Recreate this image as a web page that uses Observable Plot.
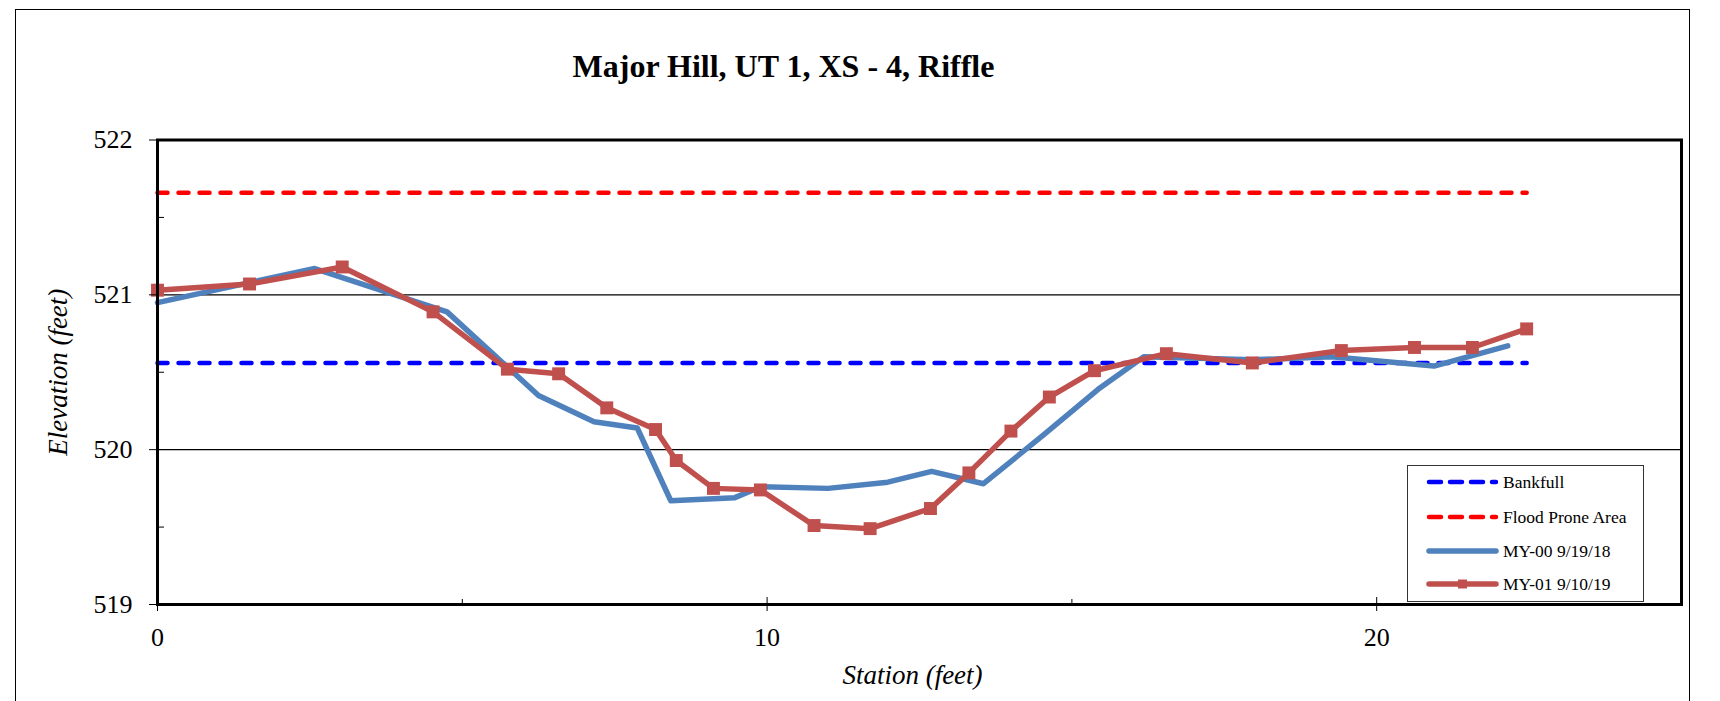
<!DOCTYPE html>
<html><head><meta charset="utf-8">
<script src="https://cdn.jsdelivr.net/npm/d3@7"></script>
<script src="https://cdn.jsdelivr.net/npm/@observablehq/plot@0.6"></script>
<style>
body{margin:0;background:#fff;}
#wrap{position:relative;width:1720px;height:701px;overflow:hidden;font-family:"Liberation Serif","Times New Roman",serif;}
#wrap svg{position:absolute;left:0;top:0;}
#border{position:absolute;left:15px;top:9px;width:1675px;height:800px;border:1px solid #000;box-sizing:border-box;}
#legend{position:absolute;left:1407px;top:465px;width:237px;height:137px;border:1.5px solid #333;box-sizing:border-box;background:#fff;}
#legend svg{position:static;}
</style></head><body><div id="wrap"><div id="border"></div></div>
<script>
const title = "Major Hill, UT 1, XS - 4, Riffle";
const xLabel = "Station (feet)";
const yLabel = "Elevation (feet)";

const xMajor = [0, 10, 20];
const xMinor = [5, 15];
const yMajor = [519, 520, 521, 522];
const yMinor = [519.5, 520.5, 521.5];
const yGrid = [520, 521];

const bankfullStations = [0, 22.46];
const bankfullElev = 520.56;
const floodStations = [0, 22.46];
const floodElev = 521.66;

const my00Stations = [0, 2.58, 4.75, 6.25, 7.16, 7.87, 8.42, 9.47, 9.90, 11.00, 11.98, 12.70, 13.55, 14.55, 15.43, 16.18, 17.96, 19.26, 20.94, 22.15];
const my00Elev = [520.95, 521.17, 520.89, 520.35, 520.18, 520.14, 519.67, 519.69, 519.76, 519.75, 519.79, 519.86, 519.78, 520.10, 520.39, 520.60, 520.58, 520.60, 520.54, 520.67];

const my01Stations = [0, 1.51, 3.03, 4.52, 5.74, 6.58, 7.37, 8.17, 8.51, 9.12, 9.89, 10.77, 11.69, 12.68, 13.31, 14.00, 14.63, 15.37, 16.55, 17.96, 19.42, 20.62, 21.57, 22.46];
const my01Elev = [521.03, 521.07, 521.18, 520.89, 520.52, 520.49, 520.27, 520.13, 519.93, 519.75, 519.74, 519.51, 519.49, 519.62, 519.85, 520.12, 520.34, 520.51, 520.62, 520.56, 520.64, 520.66, 520.66, 520.78];

const seriesNames = ["Bankfull", "Flood Prone Area", "MY-00 9/19/18", "MY-01 9/10/19"];
const seriesColors = ["#0000FF", "#FF0000", "#4F81BD", "#C0504D"];

const bankfull = bankfullStations.map(s => ({s, e: bankfullElev}));
const flood = floodStations.map(s => ({s, e: floodElev}));
const my00 = my00Stations.map((s, i) => ({s, e: my00Elev[i]}));
const my01 = my01Stations.map((s, i) => ({s, e: my01Elev[i]}));

const chart = Plot.plot({
  width: 1720, height: 701,
  marginLeft: 157, marginRight: 39, marginTop: 139.5, marginBottom: 97,
  style: {fontFamily: "'Liberation Serif', 'Times New Roman', serif", fontSize: "26px", background: "transparent", color: "#000"},
  x: {domain: [0, 25]},
  y: {domain: [519, 522]},
  marks: [
    Plot.ruleY(yGrid, {stroke: "#000", strokeWidth: 1.2}),
    Plot.line(bankfull, {x: "s", y: "e", stroke: seriesColors[0], strokeWidth: 4.5, strokeDasharray: "10,11", strokeLinecap: "round"}),
    Plot.line(flood, {x: "s", y: "e", stroke: seriesColors[1], strokeWidth: 4.5, strokeDasharray: "10,11", strokeLinecap: "round"}),
    Plot.line(my00, {x: "s", y: "e", stroke: seriesColors[2], strokeWidth: 5.5, strokeLinejoin: "round"}),
    Plot.line(my01, {x: "s", y: "e", stroke: seriesColors[3], strokeWidth: 5.5, strokeLinejoin: "round"}),
    Plot.dot(my01, {x: "s", y: "e", symbol: "square", r: 7.3, fill: seriesColors[3], stroke: null}),
    Plot.frame({stroke: "#000", strokeWidth: 3}),
    Plot.axisY({ticks: yMajor, tickSize: 8, tickPadding: 17, label: null, fontSize: 26, tickFormat: d => String(d)}),
    Plot.axisY({ticks: yMinor, anchor: "right", frameAnchor: "left", tickSize: 6, label: null, tickFormat: () => ""}),
    Plot.axisX({ticks: xMajor, tickSize: 7, tickPadding: 16, label: null, fontSize: 26, tickFormat: d => String(d)}),
    Plot.axisX({ticks: xMajor, anchor: "top", frameAnchor: "bottom", tickSize: 8, label: null, tickFormat: () => ""}),
    Plot.axisX({ticks: xMinor, anchor: "top", frameAnchor: "bottom", tickSize: 6, label: null, tickFormat: () => ""}),
    Plot.text([title], {frameAnchor: "top", text: d => d, lineAnchor: "bottom", textAnchor: "middle", dy: -63.5, dx: -136, fontSize: 32, fontWeight: "bold"}),
    Plot.text([xLabel], {frameAnchor: "bottom", text: d => d, lineAnchor: "bottom", textAnchor: "middle", dy: 79, dx: -7, fontSize: 27, fontStyle: "italic"}),
    Plot.text([yLabel], {frameAnchor: "left", text: d => d, rotate: -90, lineAnchor: "middle", textAnchor: "middle", dx: -99, fontSize: 27, fontStyle: "italic"})
  ]
});
document.getElementById("wrap").appendChild(chart);

// legend
const legendDiv = document.createElement("div");
legendDiv.id = "legend";
document.getElementById("wrap").appendChild(legendDiv);
const lsvg = d3.select(legendDiv).append("svg").attr("width", 234).attr("height", 134)
  .style("font-family", "'Liberation Serif', 'Times New Roman', serif");
const rowY = [16, 51, 85, 118];
seriesNames.forEach((name, i) => {
  const g = lsvg.append("g").attr("transform", `translate(0,${rowY[i]})`);
  const ln = g.append("line").attr("x1", 21).attr("x2", 88).attr("y1", 0).attr("y2", 0)
    .attr("stroke", seriesColors[i]).attr("stroke-linecap", "round");
  if (i < 2) ln.attr("stroke-width", 4.5).attr("stroke-dasharray", "12,9");
  else ln.attr("stroke-width", 5.5);
  if (i === 3) g.append("rect").attr("x", 50).attr("y", -4.5).attr("width", 9).attr("height", 9).attr("fill", seriesColors[i]);
  g.append("text").attr("x", 95).attr("y", 0).attr("dy", "0.35em").attr("font-size", 17.5).attr("fill", "#000").text(name);
});
</script>
</body></html>
